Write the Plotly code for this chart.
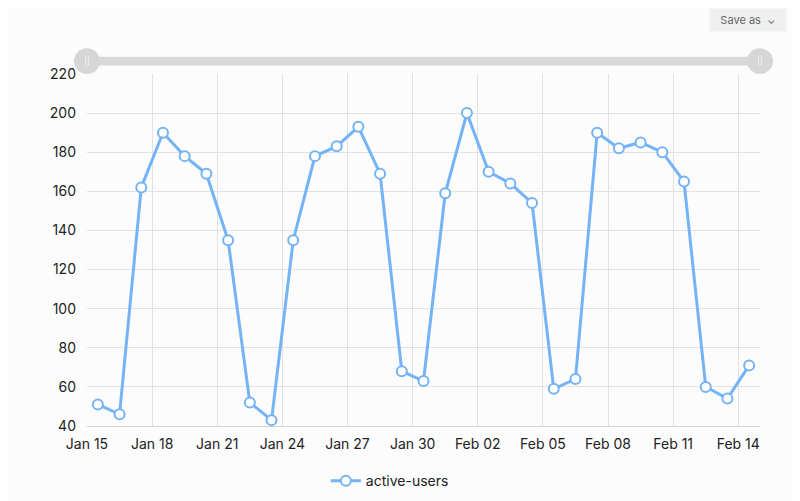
import plotly.graph_objects as go
import pandas as pd

dates = pd.date_range("2024-01-15 12:00", periods=31, freq="D")
active_users = [51, 46, 162, 190, 178, 169, 135, 52, 43, 135, 178, 183, 193, 169, 68, 63,
                159, 200, 170, 164, 154, 59, 64, 190, 182, 185, 180, 165, 60, 54, 71]
series_name = "active-users"
tick_dates = pd.date_range("2024-01-15", "2024-02-14", freq="3D")
tick_labels = [d.strftime("%b %d") for d in tick_dates]

line_color = "#74b3f5"
font_family = "Inter, Roboto, sans-serif"

fig = go.Figure()
fig.add_trace(go.Scatter(
    x=dates, y=active_users, name=series_name, mode="lines+markers",
    line=dict(color=line_color, width=3),
    marker=dict(size=10, color="white", line=dict(color=line_color, width=2)),
))

hy0, hy1 = 1.003, 1.076
fig.update_layout(
    width=800, height=501,
    paper_bgcolor="#fcfcfc", plot_bgcolor="#fcfcfc",
    margin=dict(l=79, r=48, t=66, b=77),
    font=dict(family=font_family, size=14, color="#222"),
    showlegend=True,
    legend=dict(orientation="h", x=0.45, xanchor="center", y=-0.157, yanchor="middle",
                font=dict(size=14, color="#222")),
    xaxis=dict(range=["2024-01-15", "2024-02-15"], tickvals=tick_dates, ticktext=tick_labels,
               showgrid=True, gridcolor="#e2e2e2", gridwidth=1, showline=True,
               linecolor="#d4d4d4", ticks="", zeroline=False, ticklabelstandoff=5),
    yaxis=dict(range=[40, 220], dtick=20, showgrid=True, gridcolor="#e2e2e2",
               ticks="", zeroline=False, showline=False, ticklabelstandoff=10),
    shapes=[
        dict(type="rect", xref="paper", yref="paper", x0=0, x1=1, y0=1.024, y1=1.049,
             fillcolor="#d9d9d9", line=dict(width=0), layer="above"),
        dict(type="circle", xref="paper", yref="paper", x0=-0.0193, x1=0.0193, y0=hy0 - 0.003, y1=hy1 - 0.003,
             fillcolor="#d6d6d6", line=dict(width=0), layer="above"),
        dict(type="circle", xref="paper", yref="paper", x0=0.9807, x1=1.0193, y0=hy0 - 0.003, y1=hy1 - 0.003,
             fillcolor="#d6d6d6", line=dict(width=0), layer="above"),
        dict(type="line", xref="paper", yref="paper", x0=-0.002, x1=-0.002, y0=1.024, y1=1.049,
             line=dict(color="#eeeeee", width=1)),
        dict(type="line", xref="paper", yref="paper", x0=0.002, x1=0.002, y0=1.024, y1=1.049,
             line=dict(color="#eeeeee", width=1)),
        dict(type="line", xref="paper", yref="paper", x0=0.998, x1=0.998, y0=1.024, y1=1.049,
             line=dict(color="#eeeeee", width=1)),
        dict(type="line", xref="paper", yref="paper", x0=1.002, x1=1.002, y0=1.024, y1=1.049,
             line=dict(color="#eeeeee", width=1)),
    ],
    annotations=[
        dict(text="Save as  ⌄", xref="paper", yref="paper", x=0.982, y=1.152, xanchor="center",
             yanchor="middle", showarrow=False, font=dict(size=11, color="#666", family=font_family),
             bgcolor="#efefef", borderpad=5, width=66, height=12),
    ],
)

fig.write_html("out.html")
